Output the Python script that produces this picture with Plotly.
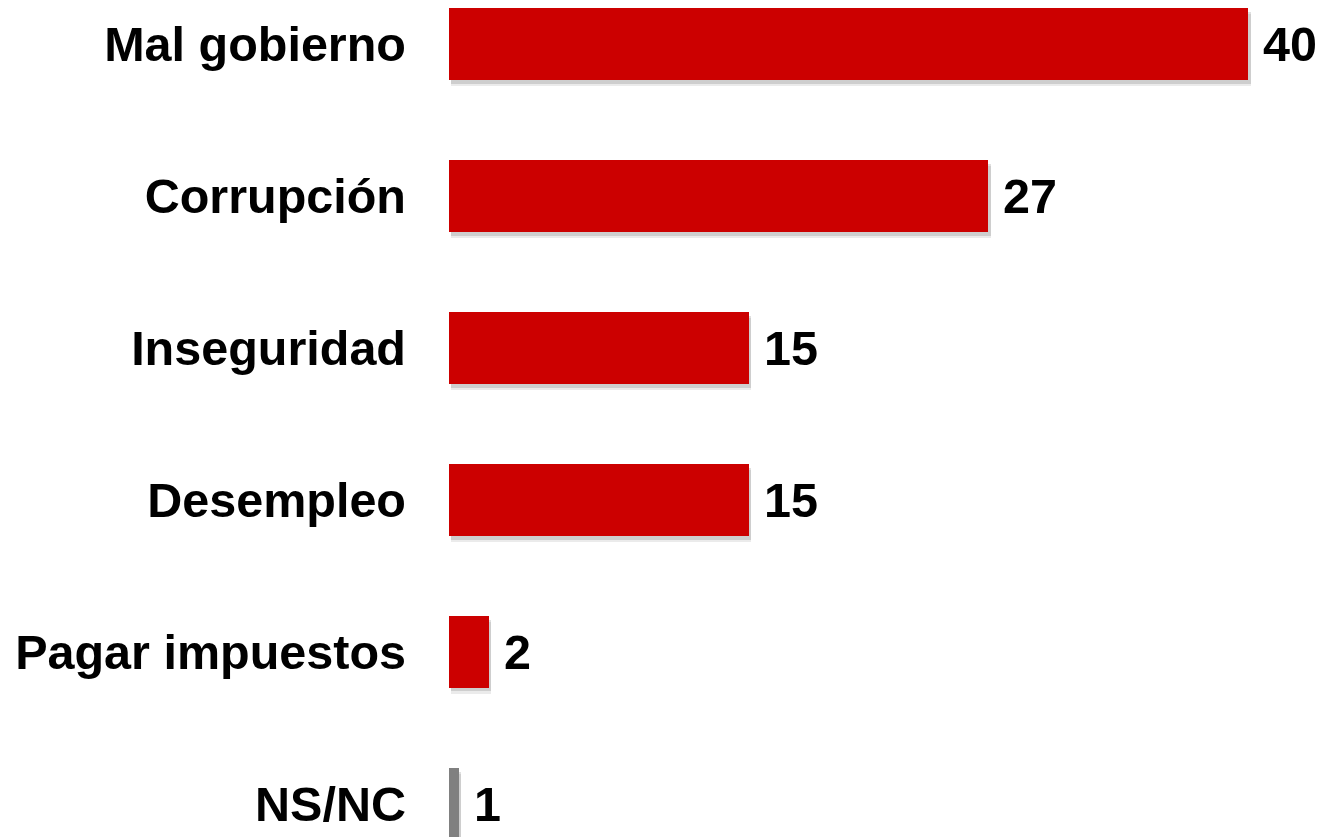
import plotly.graph_objects as go

categories = ["Mal gobierno", "Corrupción", "Inseguridad", "Desempleo", "Pagar impuestos", "NS/NC"]
values = [40, 27, 15, 15, 2, 0.5]
value_labels = ["40", "27", "15", "15", "2", "1"]
colors = ["#CC0000", "#CC0000", "#CC0000", "#CC0000", "#CC0000", "#808080"]

pos = list(range(len(categories)))
bar_w = 0.47

fig = go.Figure()
# soft shadow layers
for sh, alpha in [(0.04, 0.08), (0.025, 0.12)]:
    fig.add_trace(go.Bar(
        y=pos, x=values, base=0.12, orientation="h",
        width=bar_w, offset=-bar_w / 2 + sh,
        marker=dict(color=f"rgba(0,0,0,{alpha})", line=dict(width=0)),
        hoverinfo="skip", showlegend=False,
    ))
fig.add_trace(go.Bar(
    y=pos, x=values, orientation="h", width=bar_w,
    marker=dict(color=colors, line=dict(width=0)),
    showlegend=False,
))

for p, v, t in zip(pos, values, value_labels):
    fig.add_annotation(x=v, y=p, text=t, showarrow=False, xanchor="left",
                       yanchor="middle", xshift=13,
                       font=dict(family="Liberation Sans, Arial", size=48.5,
                                 color="#000000", weight="bold"))

fig.update_layout(
    width=1328, height=837,
    margin=dict(l=441, r=0, t=0, b=0),
    paper_bgcolor="white", plot_bgcolor="white",
    barmode="overlay", bargap=0,
)
fig.update_xaxes(range=[0, 44.4], visible=False, showgrid=False, zeroline=False)
fig.update_yaxes(range=[5.270, -0.237], tickvals=pos, ticktext=categories,
                 showgrid=False, zeroline=False, showline=False, ticks="",
                 ticklabelstandoff=42,
                 tickfont=dict(family="Liberation Sans, Arial", size=48.5,
                               color="#000000", weight="bold"))

fig.write_html("out.html")
